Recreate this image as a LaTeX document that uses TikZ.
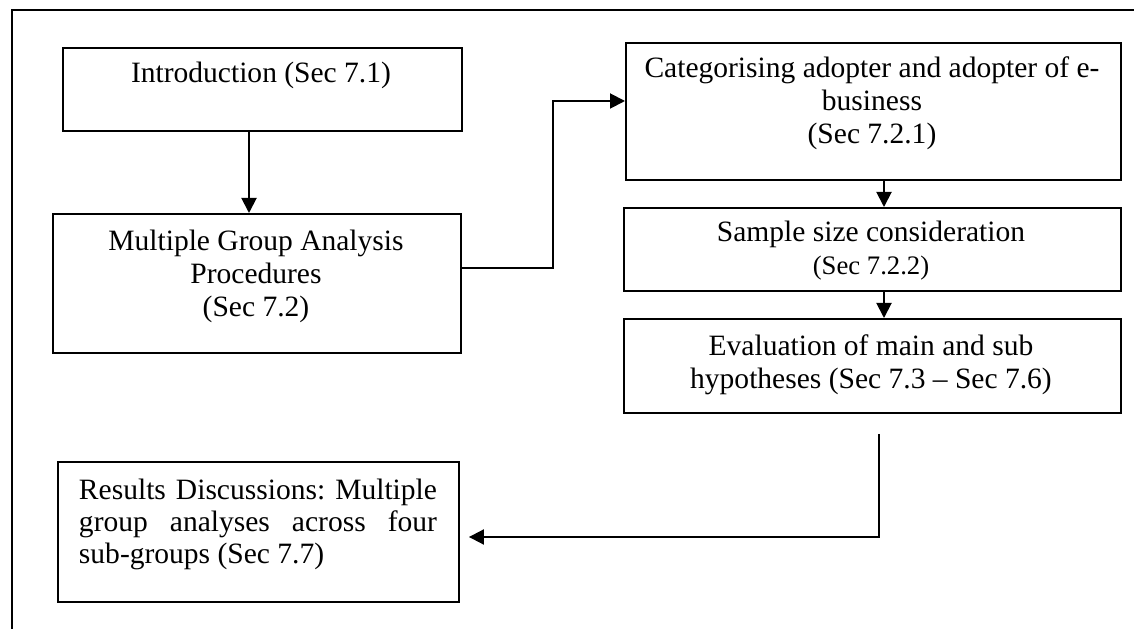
\documentclass[tikz,border=0pt]{standalone}
\usepackage{fontspec}
\setmainfont{Liberation Serif}
\usetikzlibrary{arrows.meta,positioning}

\tikzset{
  box/.style = {draw, line width=1.1pt, inner sep=0pt, anchor=north west},
  txt/.style = {inner sep=0pt, align=center, font=\fontsize{16.8}{18.8}\selectfont},
  con/.style = {line width=1.1pt},
  arr/.style = {con, -{Triangle[length=3mm,width=3mm]}},
}

\begin{document}
\begin{tikzpicture}[x=0.2mm, y=-0.2mm]
\useasboundingbox (0,0) rectangle (1134,629);
% frame, only its top and left edge
\draw[con] (1134,10) -- (12,10) -- (12,629);
%
\node (intro)  [box, minimum width=79.8mm, minimum height=16.6mm] at (62,47)  {};
\node (mga)    [box, minimum width=81.6mm, minimum height=27.8mm] at (52,213) {};
\node (cat)    [box, minimum width=99mm,   minimum height=27.4mm] at (625,42) {};
\node (sample) [box, minimum width=99.4mm, minimum height=16.6mm] at (623,207) {};
\node (eval)   [box, minimum width=99.4mm, minimum height=18.8mm] at (623,318) {};
\node (res)    [box, minimum width=80.2mm, minimum height=28mm]   at (57,461) {};
%
\node (introtxt)  [txt] at (261,75)  {Introduction (Sec 7.1)};
\node (mgatxt)    [txt] at (256,276) {Multiple Group Analysis\\Procedures\\(Sec 7.2)};
\node (cattxt)    [txt] at (872,103) {Categorising adopter and adopter of e-\\business\\(Sec 7.2.1)};
\node (sampletxt) [txt] at (871,251) {Sample size consideration\\{\fontsize{15.2}{18}\selectfont(Sec 7.2.2)}};
\node (evaltxt)   [txt] at (871,365) {Evaluation of main and sub\\hypotheses (Sec 7.3 -- Sec 7.6)};
\node (restxt)    [txt, text width=71.6mm, align=justify, font=\fontsize{16.8}{18.2}\selectfont]
      at (258,524) {\frenchspacing\tolerance=10000
      Results Discussions: Multiple group analyses across four \mbox{sub-groups} (Sec 7.7)};
%
\coordinate (j1) at (553,268);
\coordinate (j2) at (553,101);
\coordinate (e1) at (879,434);
\coordinate (e2) at (879,537);
%
\draw[arr] (intro.south -| 249,0) -- (mga.north -| 249,0);
\draw[arr] (mga.east |- j1) -- (j1) -- (j2) -- (cat.west |- j2);
\foreach \a/\b in {cat/sample, sample/eval}
    \draw[arr] (\a.south -| 884,0) -- (\b.north -| 884,0);
\draw[arr, shorten >=1.8mm] (e1) -- (e2) -- (res.east |- e2);
\end{tikzpicture}
\end{document}
